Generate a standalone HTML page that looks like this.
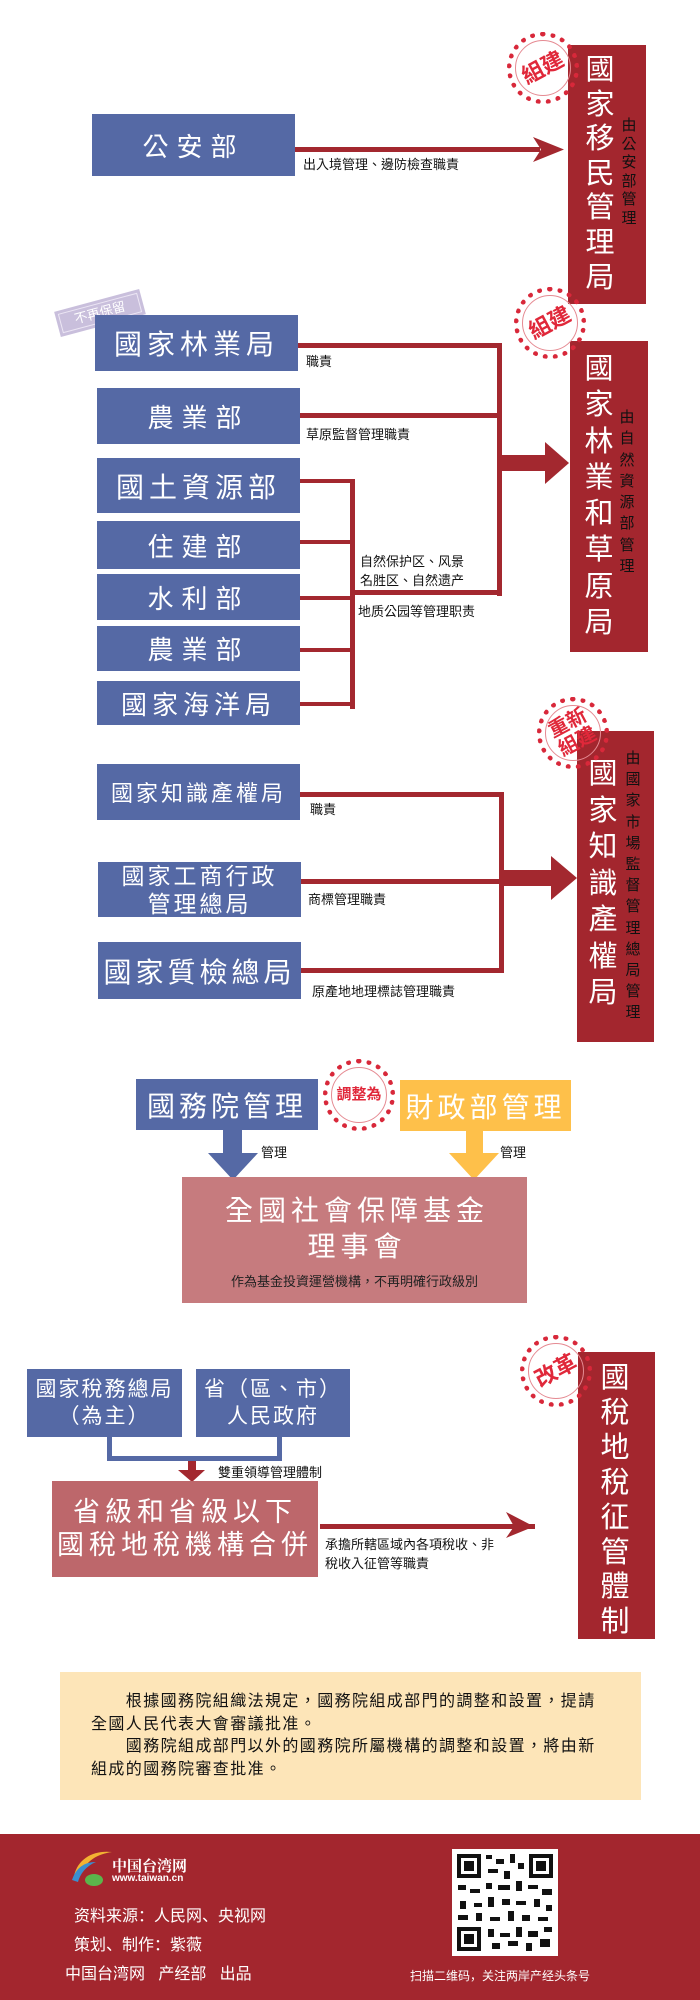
<!DOCTYPE html>
<html><head><meta charset="utf-8">
<style>
*{margin:0;padding:0;box-sizing:border-box}
body{width:700px;height:2000px;background:#fff;position:relative;overflow:hidden;font-family:"Liberation Sans","Noto Sans CJK TC",sans-serif}
.a{position:absolute}
.b{position:absolute;background:#5569a5;color:#fff;display:flex;align-items:center;justify-content:center;text-align:center;white-space:nowrap}
.l{position:absolute;background:#a3282f}
.r{position:absolute;background:#a3262e}
.v,.vs{position:absolute;text-align:center;font-family:"Noto Sans CJK TC",sans-serif;display:flex;flex-direction:column}
.v{color:#fff;font-size:29px}
.vs{color:#111;font-size:15px}
.v span,.vs span{display:block;overflow:visible;white-space:nowrap}
.t{position:absolute;font-size:13px;color:#111;white-space:nowrap}
.st{position:absolute;width:72px;height:72px;border-radius:50%;border:5px dotted #d8283a;z-index:5}
.st::after{content:"";position:absolute;left:3px;top:3px;right:3px;bottom:3px;border-radius:50%;border:1px solid #e58a92}
.st span{position:absolute;left:0;right:0;top:50%;transform:translateY(-50%) rotate(-28deg);text-align:center;color:#e0283a;font-weight:bold;font-size:22px;line-height:22px}
</style></head><body>

<!-- Section 1 -->
<div class="b" style="left:92px;top:114px;width:203px;height:62px;font-size:26px;letter-spacing:8px">公安部</div>
<div class="l" style="left:295px;top:147px;width:245px;height:5px"></div>
<svg class="a" style="left:0;top:0" width="700" height="2000">
<polygon points="533,137 564,149.5 533,162 541,149.5" fill="#a3282f"/>
<rect x="497" y="455" width="49" height="16" fill="#a3282f"/>
<polygon points="545,442 569,463 545,484" fill="#a3282f"/>
<rect x="504" y="870" width="48" height="16" fill="#a3282f"/>
<polygon points="551,856 577,878 551,900" fill="#a3282f"/>
<rect x="223" y="1130" width="19" height="24" fill="#5569a5"/>
<polygon points="208,1153 258,1153 233,1180" fill="#5569a5"/>
<rect x="466" y="1131" width="17" height="23" fill="#fec04a"/>
<polygon points="449,1153 499,1153 474,1180" fill="#fec04a"/>
<rect x="107" y="1437" width="5" height="24" fill="#5569a5"/>
<rect x="277" y="1437" width="5" height="24" fill="#5569a5"/>
<rect x="107" y="1456" width="175" height="5" fill="#5569a5"/>
<rect x="188" y="1461" width="8" height="10" fill="#a3282f"/>
<polygon points="178,1470 205,1470 192,1482" fill="#a3282f"/>
<rect x="320" y="1524" width="215" height="5" fill="#a3282f"/>
<polygon points="506,1512 534,1526.5 506,1538 514,1526.5" fill="#a3282f"/>
</svg>
<div class="t" style="left:303px;top:154px">出入境管理、邊防檢查職責</div>
<div class="r" style="left:568px;top:45px;width:78px;height:259px"></div>
<div class="v" style="left:584px;top:50px;width:32px;line-height:34.6px"><span>國</span><span>家</span><span>移</span><span>民</span><span>管</span><span>理</span><span>局</span></div>
<div class="vs" style="left:620px;top:116px;width:18px;line-height:18.5px"><span>由</span><span>公</span><span>安</span><span>部</span><span>管</span><span>理</span></div>
<div class="st" style="left:507px;top:32px"><span>組建</span></div>

<!-- Section 2 -->
<div class="a" style="left:56px;top:300px;width:88px;height:26px;background:#c9bfdc;transform:rotate(-15deg);color:#fff;font-size:13px;text-align:center;line-height:26px;outline:1px solid #ece6f4;outline-offset:-4px">不再保留</div>
<div class="b" style="left:95px;top:315px;width:203px;height:56px;font-size:28px;letter-spacing:5px">國家林業局</div>
<div class="b" style="left:97px;top:388px;width:203px;height:56px;font-size:26px;letter-spacing:8px">農業部</div>
<div class="b" style="left:97px;top:458px;width:203px;height:55px;font-size:28px;letter-spacing:5px">國土資源部</div>
<div class="b" style="left:97px;top:521px;width:203px;height:48px;font-size:26px;letter-spacing:8px">住建部</div>
<div class="b" style="left:97px;top:574px;width:203px;height:46px;font-size:26px;letter-spacing:8px">水利部</div>
<div class="b" style="left:97px;top:626px;width:203px;height:45px;font-size:26px;letter-spacing:8px">農業部</div>
<div class="b" style="left:97px;top:681px;width:203px;height:44px;font-size:26px;letter-spacing:5px">國家海洋局</div>
<div class="l" style="left:298px;top:343px;width:204px;height:5px"></div>
<div class="l" style="left:300px;top:413px;width:202px;height:5px"></div>
<div class="l" style="left:497px;top:343px;width:5px;height:253px"></div>
<div class="l" style="left:355px;top:590px;width:147px;height:5px"></div>
<div class="l" style="left:350px;top:479px;width:5px;height:230px"></div>
<div class="l" style="left:300px;top:479px;width:55px;height:4px"></div>
<div class="l" style="left:300px;top:540px;width:55px;height:4px"></div>
<div class="l" style="left:300px;top:596px;width:55px;height:4px"></div>
<div class="l" style="left:300px;top:648px;width:55px;height:4px"></div>
<div class="l" style="left:300px;top:702px;width:55px;height:4px"></div>
<div class="t" style="left:306px;top:351px">職責</div>
<div class="t" style="left:306px;top:424px">草原監督管理職責</div>
<div class="t" style="left:360px;top:552px;line-height:19px">自然保护区、风景<br>名胜区、自然遗产</div>
<div class="t" style="left:358px;top:601px">地质公园等管理职责</div>
<div class="r" style="left:570px;top:341px;width:78px;height:311px"></div>
<div class="v" style="left:583px;top:348px;width:32px;line-height:36.3px"><span>國</span><span>家</span><span>林</span><span>業</span><span>和</span><span>草</span><span>原</span><span>局</span></div>
<div class="vs" style="left:618px;top:406px;width:18px;line-height:21.3px"><span>由</span><span>自</span><span>然</span><span>資</span><span>源</span><span>部</span><span>管</span><span>理</span></div>
<div class="st" style="left:514px;top:287px"><span>組建</span></div>

<!-- Section 3 -->
<div class="b" style="left:97px;top:764px;width:203px;height:56px;font-size:22px;letter-spacing:3px">國家知識產權局</div>
<div class="b" style="left:98px;top:862px;width:203px;height:55px;font-size:23px;letter-spacing:3px;line-height:28px;white-space:normal">國家工商行政<br>管理總局</div>
<div class="b" style="left:98px;top:942px;width:203px;height:57px;font-size:28px;letter-spacing:4px">國家質檢總局</div>
<div class="l" style="left:300px;top:792px;width:204px;height:5px"></div>
<div class="l" style="left:499px;top:792px;width:5px;height:181px"></div>
<div class="l" style="left:301px;top:879px;width:203px;height:5px"></div>
<div class="l" style="left:301px;top:968px;width:203px;height:5px"></div>
<div class="t" style="left:310px;top:799px">職責</div>
<div class="t" style="left:308px;top:889px">商標管理職責</div>
<div class="t" style="left:312px;top:981px">原產地地理標誌管理職責</div>
<div class="r" style="left:577px;top:731px;width:77px;height:311px"></div>
<div class="v" style="left:587px;top:753px;width:32px;line-height:36.5px"><span>國</span><span>家</span><span>知</span><span>識</span><span>產</span><span>權</span><span>局</span></div>
<div class="vs" style="left:624px;top:747px;width:18px;line-height:21.2px"><span>由</span><span>國</span><span>家</span><span>市</span><span>場</span><span>監</span><span>督</span><span>管</span><span>理</span><span>總</span><span>局</span><span>管</span><span>理</span></div>
<div class="st" style="left:537px;top:697px"><span style="font-size:20px;line-height:21px">重新<br>組建</span></div>

<!-- Section 4 -->
<div class="b" style="left:136px;top:1079px;width:182px;height:51px;font-size:28px;letter-spacing:4px">國務院管理</div>
<div class="b" style="left:400px;top:1080px;width:171px;height:51px;font-size:28px;letter-spacing:4px;background:#fec04a">財政部管理</div>
<div class="st" style="left:323px;top:1059px;background:#fff"><span style="transform:translateY(-50%) rotate(0deg);font-size:15px">調整為</span></div>
<div class="t" style="left:261px;top:1142px">管理</div>
<div class="t" style="left:500px;top:1142px">管理</div>
<div class="a" style="left:182px;top:1177px;width:345px;height:126px;background:#c67b7e;color:#fff;text-align:center">
<div style="font-size:28px;letter-spacing:5px;line-height:36px;margin-top:16px;padding-left:5px">全國社會保障基金<br>理事會</div>
<div style="font-size:13px;color:#222;margin-top:6px">作為基金投資運營機構，不再明確行政級別</div>
</div>

<!-- Section 5 -->
<div class="b" style="left:27px;top:1369px;width:155px;height:68px;font-size:21px;letter-spacing:2px;line-height:27px;white-space:normal">國家稅務總局<br>（為主）</div>
<div class="b" style="left:196px;top:1369px;width:154px;height:68px;font-size:21px;letter-spacing:2px;line-height:27px;white-space:normal">省（區、市）<br>人民政府</div>
<div class="t" style="left:218px;top:1462px">雙重領導管理體制</div>
<div class="b" style="left:52px;top:1481px;width:266px;height:96px;background:#bd676b;font-size:27px;letter-spacing:5px;line-height:33px;white-space:normal">省級和省級以下<br>國稅地稅機構合併</div>
<div class="t" style="left:325px;top:1535px;line-height:19px">承擔所轄區域內各項稅收、非<br>稅收入征管等職責</div>
<div class="r" style="left:578px;top:1352px;width:77px;height:287px"></div>
<div class="v" style="left:599px;top:1358px;width:32px;line-height:34.9px"><span>國</span><span>稅</span><span>地</span><span>稅</span><span>征</span><span>管</span><span>體</span><span>制</span></div>
<div class="st" style="left:520px;top:1335px"><span>改革</span></div>

<!-- Note -->
<div class="a" style="left:60px;top:1672px;width:581px;height:128px;background:#fde5b8"></div>
<div class="a" style="left:91px;top:1691px;width:560px;font-size:16px;line-height:22.5px;color:#111;letter-spacing:1.4px;white-space:nowrap">
<p>&emsp;&emsp;根據國務院組織法規定，國務院組成部門的調整和設置，提請<br>全國人民代表大會審議批准。</p>
<p>&emsp;&emsp;國務院組成部門以外的國務院所屬機構的調整和設置，將由新<br>組成的國務院審查批准。</p>
</div>

<!-- Footer -->
<div class="a" style="left:0;top:1834px;width:700px;height:166px;background:#a3262e"></div>
<svg class="a" style="left:70px;top:1846px" width="44" height="42">
<path d="M4,30 C8,12 24,4 42,6 C28,8 16,14 10,30 Z" fill="#f2b233"/>
<path d="M2,34 C6,22 14,16 26,16 C16,20 10,28 8,36 Z" fill="#3a8ed0"/>
<ellipse cx="24" cy="34" rx="9" ry="6" fill="#5bb54b"/>
</svg>
<div class="a" style="left:112px;top:1855px;color:#fff;font-size:15px;font-weight:bold;font-family:'Liberation Serif','Noto Serif CJK SC',serif">中国台湾网</div>
<div class="a" style="left:112px;top:1873px;color:#fff;font-size:10px;font-weight:bold">www.taiwan.cn</div>
<div class="a" style="left:74px;top:1902px;color:#fff;font-size:16px;font-family:'Liberation Sans','Noto Sans CJK SC',sans-serif">资料来源：人民网、央视网</div>
<div class="a" style="left:74px;top:1931px;color:#fff;font-size:16px;font-family:'Liberation Sans','Noto Sans CJK SC',sans-serif">策划、制作：紫薇</div>
<div class="a" style="left:65px;top:1960px;color:#fff;font-size:16px;font-family:'Liberation Sans','Noto Sans CJK SC',sans-serif">中国台湾网&nbsp;&nbsp;&nbsp;产经部&nbsp;&nbsp;&nbsp;出品</div>
<svg class="a" style="left:452px;top:1849px" width="106" height="107">
<rect width="106" height="107" fill="#fff"/>
<g fill="#111">
<rect x="5" y="5" width="24" height="24"/><rect x="77" y="5" width="24" height="24"/><rect x="5" y="78" width="24" height="24"/>
</g>
<g fill="#fff"><rect x="9" y="9" width="16" height="16"/><rect x="81" y="9" width="16" height="16"/><rect x="9" y="82" width="16" height="16"/></g>
<g fill="#111"><rect x="12" y="12" width="10" height="10"/><rect x="84" y="12" width="10" height="10"/><rect x="12" y="85" width="10" height="10"/>
<rect x="34" y="6" width="6" height="4"/><rect x="44" y="10" width="8" height="5"/><rect x="58" y="5" width="5" height="9"/><rect x="66" y="14" width="6" height="6"/>
<rect x="36" y="20" width="10" height="4"/><rect x="52" y="22" width="6" height="8"/><rect x="6" y="36" width="8" height="5"/><rect x="18" y="40" width="10" height="4"/>
<rect x="34" y="34" width="6" height="6"/><rect x="46" y="36" width="12" height="5"/><rect x="64" y="32" width="6" height="10"/><rect x="76" y="36" width="10" height="4"/>
<rect x="90" y="40" width="10" height="6"/><rect x="8" y="52" width="6" height="8"/><rect x="22" y="54" width="8" height="4"/><rect x="36" y="48" width="6" height="10"/>
<rect x="50" y="50" width="8" height="6"/><rect x="64" y="52" width="10" height="4"/><rect x="82" y="50" width="6" height="8"/><rect x="94" y="56" width="6" height="6"/>
<rect x="6" y="66" width="10" height="5"/><rect x="24" y="64" width="6" height="8"/><rect x="38" y="68" width="10" height="4"/><rect x="56" y="62" width="6" height="10"/>
<rect x="70" y="66" width="8" height="6"/><rect x="86" y="68" width="10" height="4"/><rect x="36" y="80" width="6" height="8"/><rect x="48" y="84" width="10" height="4"/>
<rect x="64" y="78" width="6" height="10"/><rect x="76" y="82" width="10" height="6"/><rect x="92" y="78" width="8" height="5"/><rect x="40" y="94" width="8" height="6"/>
<rect x="56" y="92" width="10" height="5"/><rect x="74" y="94" width="6" height="8"/><rect x="88" y="90" width="10" height="8"/></g>
</svg>
<div class="a" style="left:410px;top:1967px;color:#fff;font-size:12px;font-family:'Liberation Sans','Noto Sans CJK SC',sans-serif">扫描二维码，关注两岸产经头条号</div>
</body></html>
